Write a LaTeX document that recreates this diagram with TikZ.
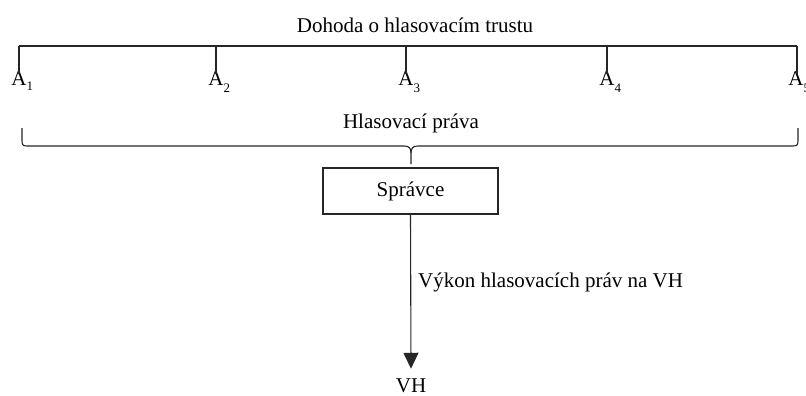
\documentclass[tikz,border=0pt]{standalone}
\usepackage{fontspec}
\setmainfont{Liberation Serif}
\usetikzlibrary{arrows.meta}
\begin{document}
\begin{tikzpicture}[x=1pt,y=-1pt,
  line/.style={line width=1.1pt,draw=black!85},
  lbl/.style={inner sep=0pt,font=\fontsize{21}{24}\selectfont},
  aname/.style={lbl,anchor=north},
  box/.style={draw=black!85,line width=1.1pt,minimum width=175pt,minimum height=46pt,inner sep=0pt,font=\fontsize{21}{24}\selectfont}]
\useasboundingbox (0,0) rectangle (806,396);
\newcommand{\lowsub}[1]{\rlap{\raisebox{-0.55ex}{\fontsize{13}{14}\selectfont #1}}}
% title
\node[lbl] (title) at (415,25) {Dohoda o hlasovacím trustu};
% top bar
\coordinate (t1) at (19,46);
\coordinate (t2) at (216,46);
\coordinate (t3) at (406,46);
\coordinate (t4) at (607,46);
\coordinate (t5) at (797,46);
\draw[line] (t1) -- (t5);
\node[aname] (a1) at (19,71) {A\lowsub{1}};
\node[aname] (a2) at (216,71) {A\lowsub{\raisebox{-0.4ex}{2}}};
\node[aname] (a3) at (406,71) {A\lowsub{\raisebox{-0.4ex}{3}}};
\node[aname] (a4) at (607,71) {A\lowsub{\raisebox{-0.4ex}{4}}};
\node[aname] (a5) at (796,71) {A\lowsub{\raisebox{-0.4ex}{5}}};
\draw[line] (t1) -- ([yshift=-3pt]a1.north);
\draw[line] (t2) -- ([yshift=-3pt]a2.north);
\draw[line] (t3) -- ([yshift=-3pt]a3.north);
\draw[line] (t4) -- ([yshift=-3pt]a4.north);
\draw[line] (t5) -- ([yshift=-3pt]a5.north -| t5);
% brace
\node[lbl] (rights) at (411,123) {Hlasovací práva};
\coordinate (bl) at (22,128);
\coordinate (br) at (798,128);
\coordinate (bm) at (411,164);
\draw[line] (bl) -- (22,141) .. controls (22,146) and (24,146) .. (28,146)
  -- (404,146) .. controls (409,146) and (411,148) .. (411,153) -- (bm);
\draw[line] (br) -- (798,141) .. controls (798,146) and (796,146) .. (792,146)
  -- (418,146) .. controls (413,146) and (411,148) .. (411,153);
% manager box
\node[box] (spravce) at (410.5,191) {Správce};
\node[lbl] (vh) at (411,386) {VH};
\draw[line,-{Triangle[width=15pt,length=16pt]}] (spravce.south) -- ([yshift=10pt]vh.north);
\node[lbl,anchor=west] (vykon) at (418,282) {Výkon hlasovacích práv na VH};
\end{tikzpicture}
\end{document}
